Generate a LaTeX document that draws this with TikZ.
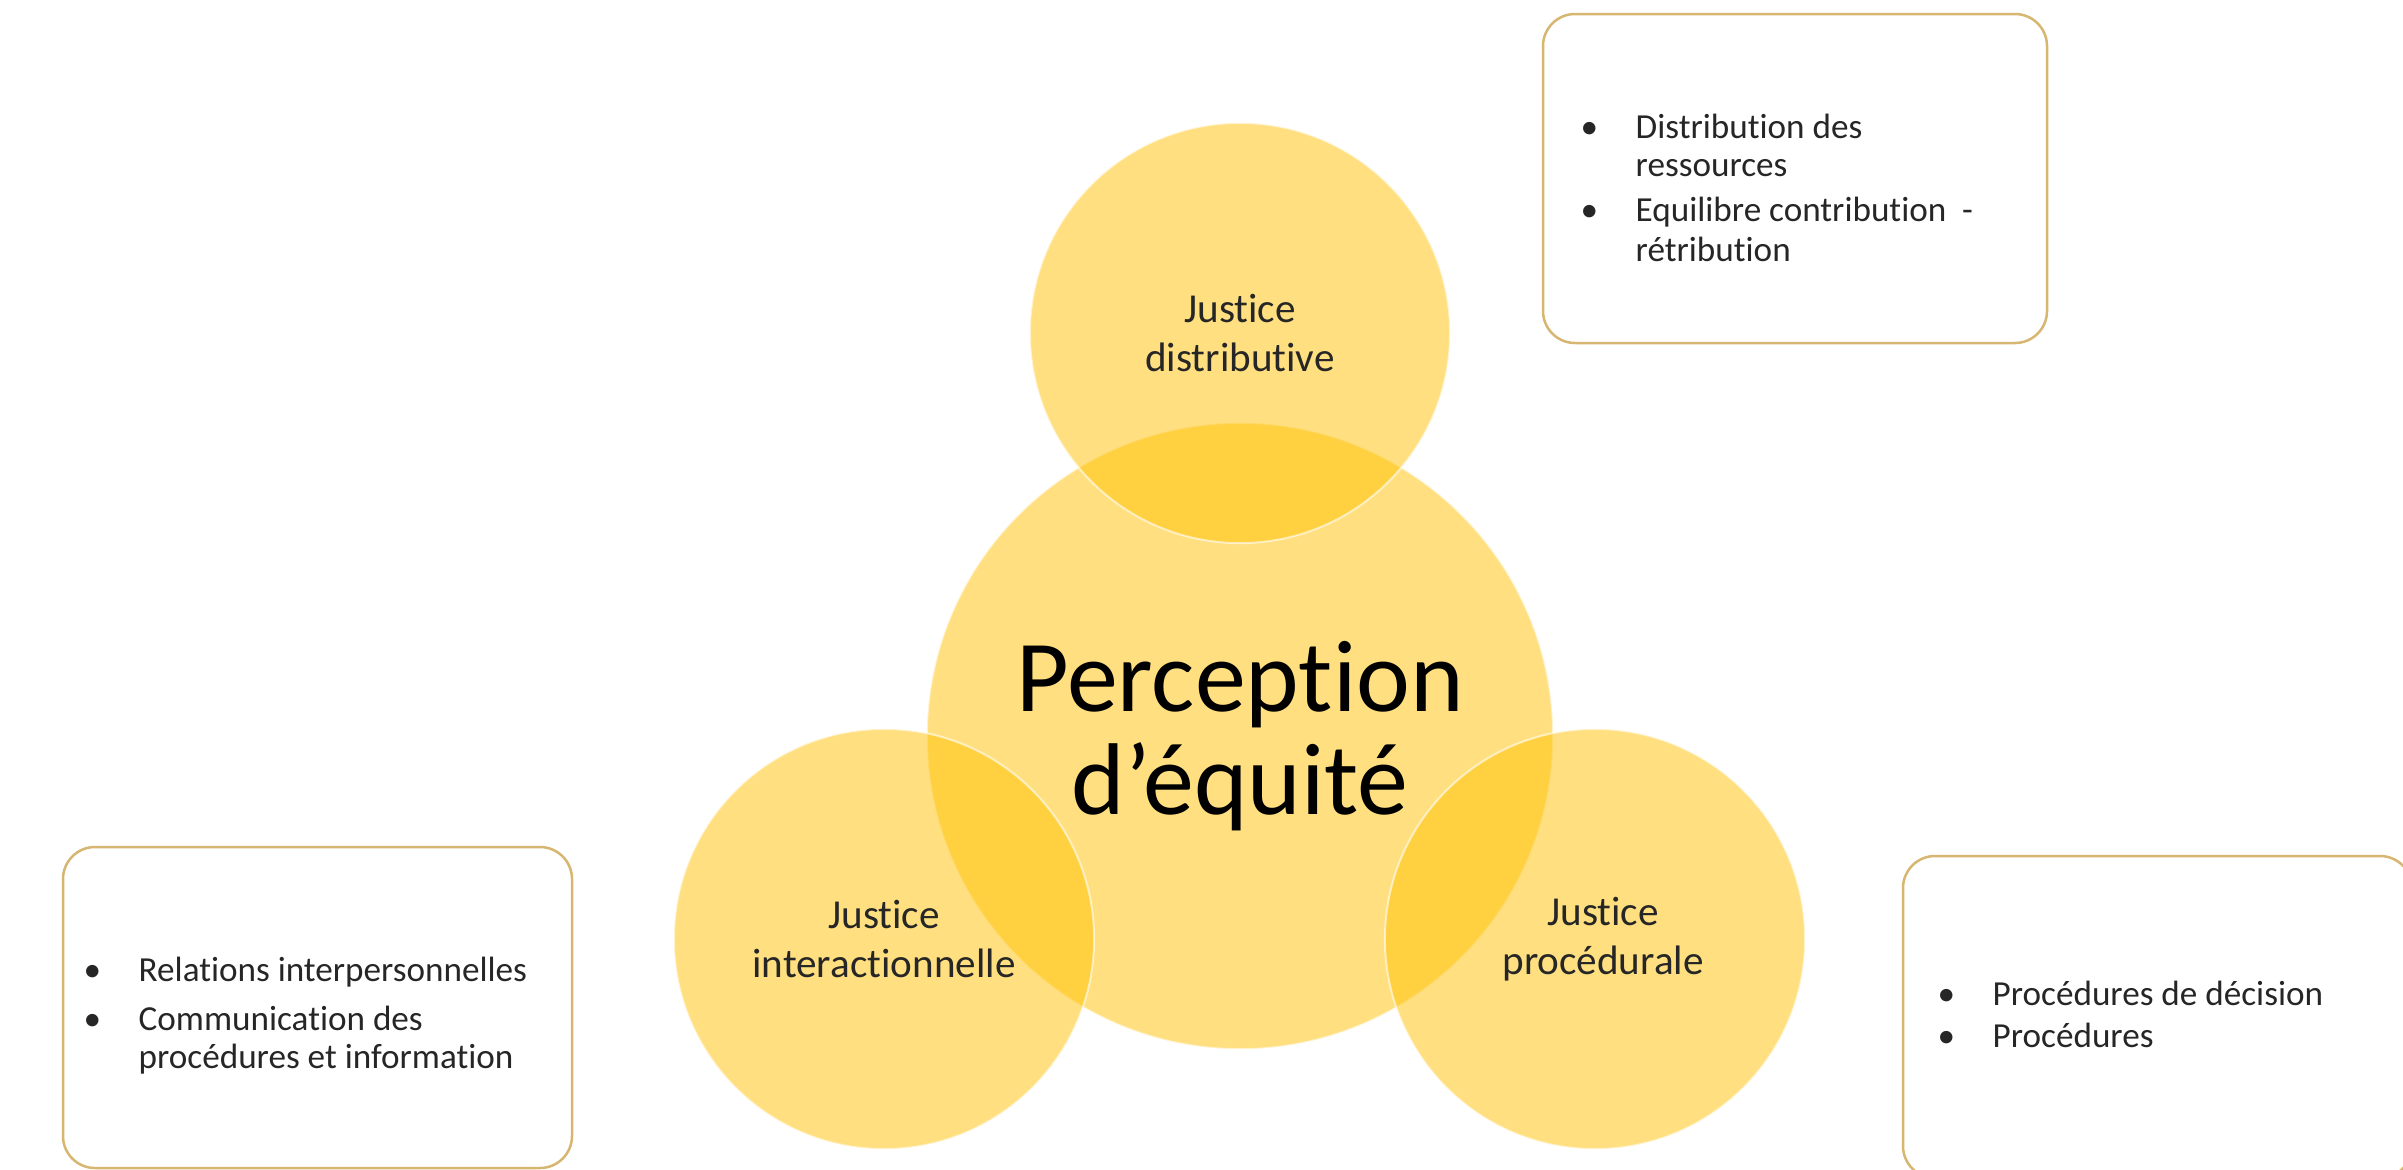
\documentclass[tikz,border=0pt]{standalone}
\usepackage{fontspec}
\setmainfont{Carlito}[Ligatures={NoCommon,NoRequired,NoContextual}]

\definecolor{bubblegold}{HTML}{FFC000}
\definecolor{boxline}{RGB}{214,182,112}
\definecolor{labelgray}{HTML}{262626}

\tikzset{
  bubble/.style={circle, inner sep=0pt, fill=bubblegold, fill opacity=0.5, text opacity=1,
    draw=white, draw opacity=0.6, line width=0.02cm, align=center, text=labelgray},
  infobox/.style={draw=boxline, line width=0.025cm, rounded corners=0.32cm},
  listtxt/.style={anchor=base west, inner sep=0pt, font=\fontsize{10}{12}\selectfont, text=labelgray},
}
\newcommand{\puce}{\llap{\makebox[0.55cm][l]{\textbullet}}}

\begin{document}
\begin{tikzpicture}[x=0.01cm, y=-0.01cm]
\useasboundingbox (0,0) rectangle (2403,1169);

%cercles
\node[bubble, minimum size=6.26cm, text=black, font=\fontsize{29}{29.5}\selectfont] (equite) at (1240,736) {Perception\\d’équité};
\node[bubble, minimum size=4.2cm, font=\fontsize{11.7}{13.9}\selectfont] (distrib) at (1240,333) {Justice\\distributive};
\node[bubble, minimum size=4.2cm, font=\fontsize{11.7}{13.9}\selectfont] (interact) at (884,939) {Justice\\interactionnelle};
\node[bubble, minimum size=4.2cm, font=\fontsize{11.7}{13.9}\selectfont] (proced) at (1595,939) {\hspace*{0.16cm}Justice\\\hspace*{0.16cm}procédurale};

%cadres
\draw[infobox] (1543,14) rectangle (2047,343);
\draw[infobox] (63,847) rectangle (572,1168);
\draw[infobox] (1903,856) rectangle (2412,1178);

%distributive
\node[listtxt] (distA) at (1635,138) {\puce Distribution des};
\node[listtxt] (distB) at (1635,176) {ressources};
\node[listtxt] (distC) at (1635,221) {\puce Equilibre contribution\ \ -};
\node[listtxt] (distD) at (1635,261) {rétribution};

%interactionnelle
\node[listtxt] (interA) at (138,981) {\puce Relations interpersonnelles};
\node[listtxt] (interB) at (138,1030) {\puce Communication des};
\node[listtxt] (interC) at (138,1068) {procédures et information};

%procedurale
\node[listtxt] (procA) at (1992,1005) {\puce Procédures de décision};
\node[listtxt] (procB) at (1992,1047) {\puce Procédures};

\end{tikzpicture}
\end{document}
